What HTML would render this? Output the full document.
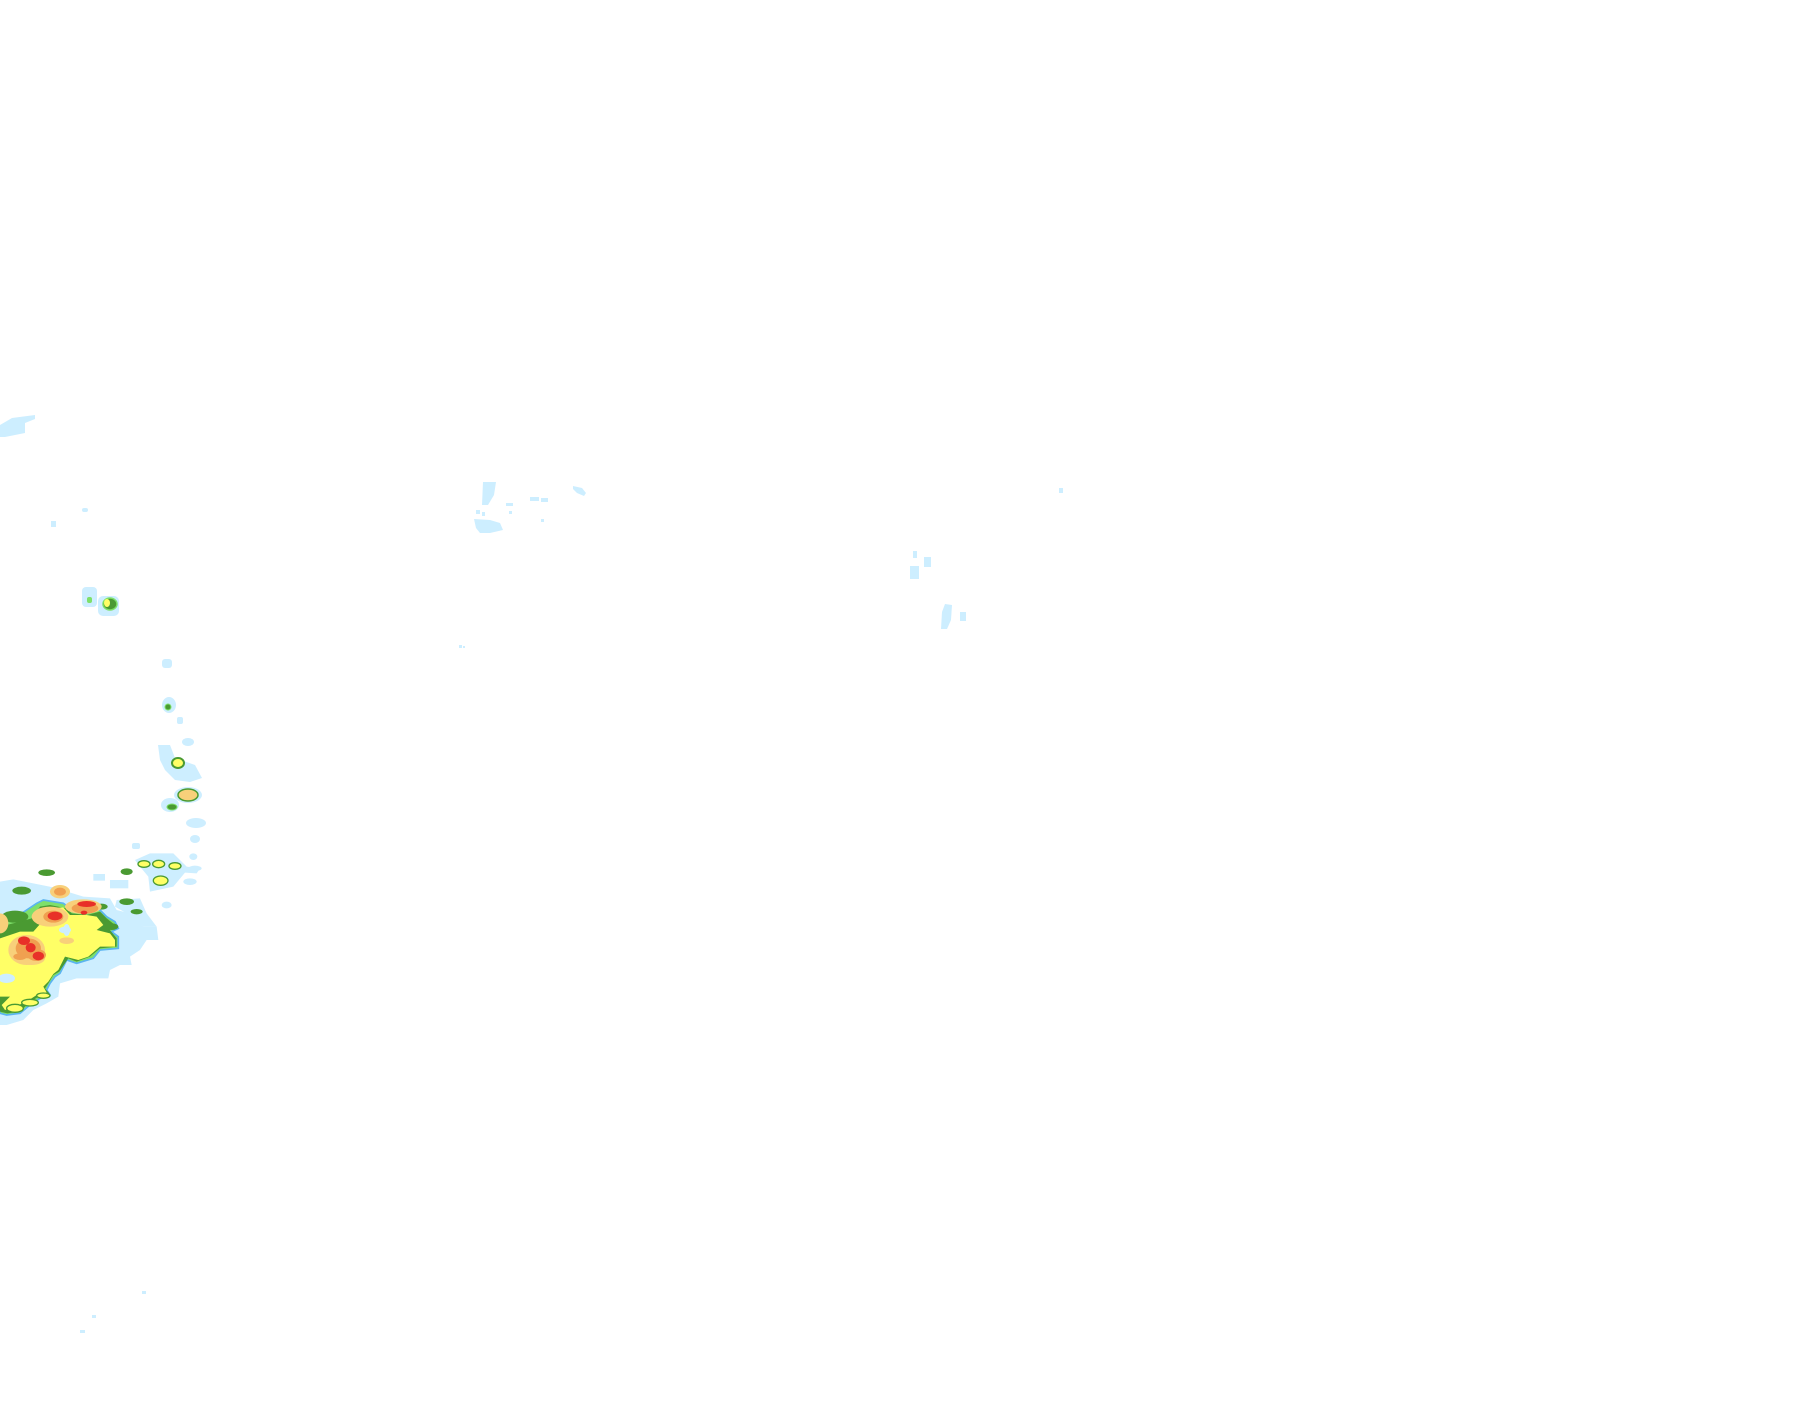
<!DOCTYPE html>
<html><head><meta charset="utf-8"><style>html,body{margin:0;padding:0;background:#fff;width:1815px;height:1424px;overflow:hidden}svg{display:block}</style></head>
<body>
<svg width="1815" height="1424" viewBox="0 0 1815 1424" xmlns="http://www.w3.org/2000/svg">
<g fill="#cdeeff">
<polygon points="0,425 12,418 35,415 35,419 25,423 25,433 5,437 0,437"/>
<rect x="82" y="508" width="6" height="4" rx="2"/>
<rect x="51" y="521" width="5" height="6"/>
<rect x="82" y="587" width="15" height="20" rx="4"/>
<rect x="98" y="596" width="21" height="20" rx="5"/>
<rect x="162" y="659" width="10" height="9" rx="3"/>
<ellipse cx="169" cy="705" rx="7" ry="8"/>
<rect x="177" y="717" width="6" height="7" rx="2"/>
<ellipse cx="188" cy="742" rx="6" ry="4"/>
<polygon points="158,745 170,745 175,758 195,765 202,778 190,782 175,780 165,770 160,760"/>
<ellipse cx="188" cy="795" rx="14" ry="8"/>
<ellipse cx="170" cy="805" rx="9" ry="7"/>
<ellipse cx="196" cy="823" rx="10" ry="5"/>
<ellipse cx="195" cy="839" rx="5" ry="4"/>
<rect x="132" y="843" width="8" height="6" rx="2"/>
<polygon points="483,482 496,482 494,495 488,505 482,505"/>
<polygon points="474,519 490,520 500,523 503,530 490,533 480,533 476,528"/>
<rect x="476" y="510" width="4" height="4"/><rect x="482" y="512" width="3" height="4"/>
<rect x="506" y="503" width="7" height="3"/><rect x="509" y="511" width="3" height="3"/>
<rect x="530" y="497" width="9" height="4"/><rect x="541" y="498" width="7" height="4"/>
<rect x="541" y="519" width="3" height="3"/>
<polygon points="573,486 582,488 586,493 584,496 577,493 573,489"/>
<rect x="459" y="645" width="3" height="3"/><rect x="463" y="646" width="2" height="2"/>
<rect x="913" y="551" width="4" height="7"/>
<rect x="924" y="557" width="7" height="10"/>
<rect x="910" y="566" width="9" height="13"/>
<polygon points="945,604 952,605 951,620 947,629 941,629 942,612"/>
<rect x="960" y="612" width="6" height="9"/>
<rect x="1059" y="488" width="4" height="5"/>
<rect x="142" y="1291" width="4" height="3"/>
<rect x="92" y="1315" width="4" height="3"/>
<rect x="80" y="1330" width="5" height="3"/>
</g>
<g fill="#7ee06a"><rect x="87" y="597" width="5" height="6" rx="2"/></g>
<ellipse cx="110" cy="604" rx="7" ry="6" fill="#4a9a32" stroke="#7ee06a" stroke-width="1.5"/>
<ellipse cx="107" cy="603" rx="3" ry="4" fill="#ffff66"/>
<ellipse cx="168" cy="707" rx="3" ry="3" fill="#4a9a32" stroke="#7ee06a"/>
<ellipse cx="178" cy="763" rx="6" ry="5" fill="#ffff66" stroke="#4a9a32" stroke-width="2"/>
<ellipse cx="188" cy="795" rx="10" ry="6" fill="#f8d07a" stroke="#4a9a32" stroke-width="1.5"/>
<ellipse cx="172" cy="807" rx="5" ry="3" fill="#4a9a32" stroke="#7ee06a"/>
<g transform="translate(0,850) scale(0.3333)">
<g fill="#cdeeff">
<polygon points="0,95 40,88 100,100 160,112 250,140 330,145 350,180 390,190 430,230 470,230 475,270 440,270 420,300 390,320 395,345 360,345 330,360 325,385 230,385 180,400 175,440 140,460 100,480 70,510 20,525 0,525"/>
<polygon points="405,30 450,10 520,10 560,50 600,55 590,70 555,68 520,110 450,125 445,80 420,50"/>
<polygon points="350,150 420,145 440,190 470,230 430,230 380,190 345,170"/>
<rect x="280" y="72" width="35" height="20"/><rect x="330" y="90" width="55" height="25"/>
<ellipse cx="580" cy="20" rx="12" ry="10"/><ellipse cx="585" cy="55" rx="20" ry="8"/>
<ellipse cx="500" cy="165" rx="15" ry="10"/><ellipse cx="570" cy="95" rx="20" ry="10"/>
</g>
<polygon points="0,225 50,200 110,160 130,150 190,160 210,175 260,180 300,180 320,200 345,215 355,235 335,245 355,260 355,295 300,300 280,325 230,340 200,330 180,370 165,380 150,400 140,420 150,435 120,445 90,465 60,490 20,495 0,490" fill="#7ee06a" stroke="#5ab4f0" stroke-width="5"/>
<polygon points="0,230 60,215 95,205 120,170 150,165 200,175 215,190 260,195 300,185 320,205 345,225 330,240 350,265 350,290 300,295 270,320 230,335 205,325 178,365 160,375 145,400 135,415 148,430 115,440 85,460 60,485 22,490 0,485" fill="#4a9a32"/>
<polygon points="0,265 60,245 100,245 140,200 140,175 190,172 210,195 260,195 290,200 310,225 290,240 330,250 345,270 345,290 300,290 265,320 235,330 195,320 175,360 160,372 145,395 130,410 140,428 110,435 80,455 45,470 15,480 5,465 30,440 0,440" fill="#ffff66"/>
<g fill="#4a9a32">
<ellipse cx="65" cy="122" rx="28" ry="12"/><ellipse cx="140" cy="68" rx="25" ry="10"/>
<ellipse cx="380" cy="155" rx="22" ry="10"/><ellipse cx="410" cy="185" rx="18" ry="8"/>
<ellipse cx="305" cy="170" rx="18" ry="9"/><ellipse cx="335" cy="230" rx="20" ry="10"/>
<ellipse cx="45" cy="200" rx="40" ry="18"/><ellipse cx="380" cy="65" rx="18" ry="10"/>
</g>
<g fill="#cdeeff"><ellipse cx="65" cy="290" rx="14" ry="20"/><ellipse cx="195" cy="240" rx="18" ry="10"/><ellipse cx="200" cy="240" rx="10" ry="18"/><ellipse cx="20" cy="385" rx="25" ry="14"/></g>
<g fill="#ffff66" stroke="#4a9a32" stroke-width="4">
<ellipse cx="432" cy="42" rx="18" ry="10"/><ellipse cx="476" cy="42" rx="18" ry="11"/><ellipse cx="525" cy="48" rx="18" ry="10"/>
<ellipse cx="482" cy="92" rx="22" ry="14"/><ellipse cx="45" cy="475" rx="25" ry="12"/><ellipse cx="90" cy="458" rx="25" ry="10"/><ellipse cx="130" cy="437" rx="20" ry="8"/>
</g>
<g fill="#f8d07a">
<ellipse cx="180" cy="125" rx="30" ry="20"/><ellipse cx="250" cy="170" rx="55" ry="22"/><ellipse cx="150" cy="200" rx="55" ry="30"/>
<ellipse cx="80" cy="300" rx="55" ry="45"/><ellipse cx="0" cy="220" rx="25" ry="30"/><ellipse cx="200" cy="272" rx="22" ry="10"/><ellipse cx="95" cy="325" rx="40" ry="20"/>
</g>
<g fill="#f0a050">
<ellipse cx="180" cy="125" rx="18" ry="12"/><ellipse cx="255" cy="175" rx="40" ry="16"/><ellipse cx="160" cy="200" rx="30" ry="18"/>
<ellipse cx="85" cy="295" rx="38" ry="30"/><ellipse cx="110" cy="315" rx="28" ry="18"/><ellipse cx="60" cy="320" rx="20" ry="10"/>
</g>
<g fill="#e83028">
<ellipse cx="260" cy="162" rx="28" ry="9"/><ellipse cx="252" cy="188" rx="10" ry="6"/><ellipse cx="165" cy="198" rx="22" ry="13"/>
<ellipse cx="72" cy="272" rx="18" ry="13"/><ellipse cx="92" cy="293" rx="15" ry="14"/><ellipse cx="115" cy="318" rx="17" ry="13"/>
</g>
</g>
</svg>
</body></html>
